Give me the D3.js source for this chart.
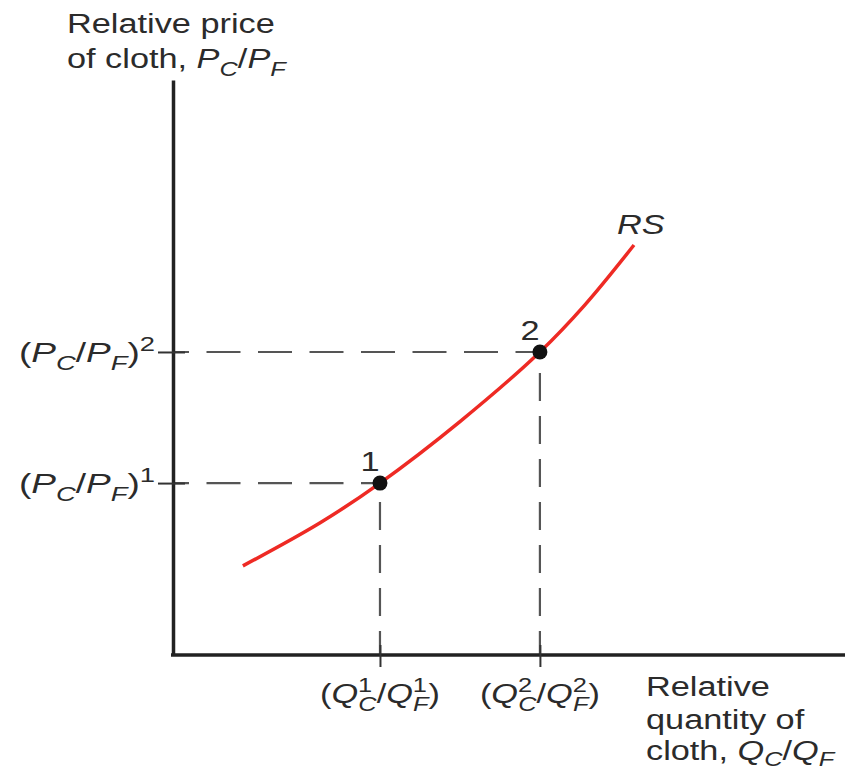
<!DOCTYPE html>
<head>
    <script src="https://d3js.org/d3.v7.min.js"></script>
    <style>
        body { margin: 0; background: #fff; }
        text { font-family: 'Liberation Sans', Arial, sans-serif; fill: #2b2b2b; }
    </style>
</head>
<body>
    <div id='container'></div>
    <script>
        // relative supply curve RS, in axis units (0-100 both ways)
        const rsQuantity = [10.4, 21.9, 30.8, 42.7, 54.6, 61.3, 68.6];
        const rsPrice    = [15.5, 23.0, 29.9, 40.6, 52.7, 60.9, 71.3];
        // the two equilibrium points
        const eqQuantity = [30.8, 54.6];
        const eqPrice    = [29.9, 52.7];
        const eqNames    = ['1', '2'];

        const w = 858;
        const h = 772;
        const SX = 1.27;   // the reference text is drawn wide
        const FS = 27;
        const SUB = 20;

        const xScale = d3.scaleLinear().domain([0, 100]).range([173, 845]);
        const yScale = d3.scaleLinear().domain([0, 100]).range([655, 80]);

        const svg = d3.select('#container')
                      .append('svg')
                      .attr('width', w)
                      .attr('height', h);

        // parts: [text, italic, pos, dx]   pos: 0 normal, 1 sub, -1 sup
        function richText(x, y, parts, anchor, subOff, sx) {
            const t = svg.append('text')
                         .attr('transform', 'translate(' + x + ',' + y + ') scale(' + (sx || SX) + ',1)')
                         .attr('text-anchor', anchor || 'start')
                         .attr('font-size', FS);
            let cur = 0;
            parts.forEach((p) => {
                const off = p[2] === 1 ? (subOff || 8) : (p[2] === -1 ? -11 : 0);
                const s = t.append('tspan')
                           .attr('dy', off - cur)
                           .attr('font-size', p[2] ? SUB : FS)
                           .attr('font-style', p[1] ? 'italic' : 'normal')
                           .text(p[0]);
                if (p[3]) s.attr('dx', p[3]);
                cur = off;
            });
            return t;
        }

        // curve
        const line = d3.line()
                       .x((d) => xScale(d[0]))
                       .y((d) => yScale(d[1]))
                       .curve(d3.curveCatmullRom.alpha(0.5));
        svg.append('path')
           .datum(rsQuantity.map((q, i) => [q, rsPrice[i]]))
           .attr('d', line)
           .attr('fill', 'none')
           .attr('stroke', '#ee2a24')
           .attr('stroke-width', 3.5);

        // dashed guides
        eqQuantity.forEach((q, i) => {
            svg.append('line')
               .attr('x1', xScale(0)).attr('x2', xScale(q))
               .attr('y1', yScale(eqPrice[i])).attr('y2', yScale(eqPrice[i]))
               .attr('stroke', '#555').attr('stroke-width', 2.2)
               .attr('stroke-dasharray', '34 17.5').attr('stroke-dashoffset', 18);
            svg.append('line')
               .attr('x1', xScale(q)).attr('x2', xScale(q))
               .attr('y1', yScale(0)).attr('y2', yScale(eqPrice[i]))
               .attr('stroke', '#555').attr('stroke-width', 2.2)
               .attr('stroke-dasharray', '28 15').attr('stroke-dashoffset', 4);
        });

        // axes
        const xAxis = d3.axisBottom(xScale).tickValues(eqQuantity).tickSizeOuter(0).tickFormat('');
        const yAxis = d3.axisLeft(yScale).tickValues(eqPrice).tickSizeOuter(0).tickFormat('');
        const gx = svg.append('g')
                      .attr('transform', 'translate(0,' + yScale(0) + ')')
                      .call(xAxis);
        gx.selectAll('.tick line').attr('y1', -10).attr('y2', 12).attr('stroke', '#333').attr('stroke-width', 2);
        const gy = svg.append('g')
                      .attr('transform', 'translate(' + xScale(0) + ',0)')
                      .call(yAxis);
        gy.selectAll('.tick line').attr('x1', -15).attr('x2', 12).attr('stroke', '#333').attr('stroke-width', 2);
        svg.selectAll('.domain').attr('stroke', '#222').attr('stroke-width', 3.5);
        gx.select('.domain').attr('d', 'M' + (xScale(0) - 2) + ',0H' + xScale(100));

        // points
        svg.selectAll('circle')
           .data(eqQuantity)
           .enter()
           .append('circle')
           .attr('cx', (d) => xScale(d))
           .attr('cy', (d, i) => yScale(eqPrice[i]))
           .attr('r', 7.5)
           .attr('fill', '#111');
        eqNames.forEach((n, i) => {
            richText(xScale(eqQuantity[i]) - 10, yScale(eqPrice[i]) - 12, [[n, false, 0]], 'middle');
        });

        // tick labels
        eqPrice.forEach((p, i) => {
            richText(155, yScale(p) + 10, [['(', false, 0], ['P', true, 0], ['C', true, 1], ['/', false, 0],
                ['P', true, 0], ['F', true, 1], [')', false, 0], [eqNames[i], false, -1]], 'end', 8, 1.37);
        });
        eqQuantity.forEach((q, i) => {
            richText(xScale(q), 703, [['(', false, 0], ['Q', true, 0], [eqNames[i], false, -1],
                ['C', true, 1, -11], ['/', false, 0], ['Q', true, 0], [eqNames[i], false, -1],
                ['F', true, 1, -11], [')', false, 0]], 'middle');
        });

        // titles
        richText(67, 33, [['Relative price', false, 0]]);
        richText(67, 68, [['of cloth, ', false, 0], ['P', true, 0], ['C', true, 1], ['/', false, 0],
            ['P', true, 0], ['F', true, 1]]);
        richText(646, 696, [['Relative', false, 0]]);
        richText(646, 729, [['quantity of', false, 0]]);
        richText(646, 760, [['cloth, ', false, 0], ['Q', true, 0], ['C', true, 1], ['/', false, 0],
            ['Q', true, 0], ['F', true, 1]], 'start', 6);
        richText(617, 234, [['RS', true, 0]]);
    </script>
</body>
